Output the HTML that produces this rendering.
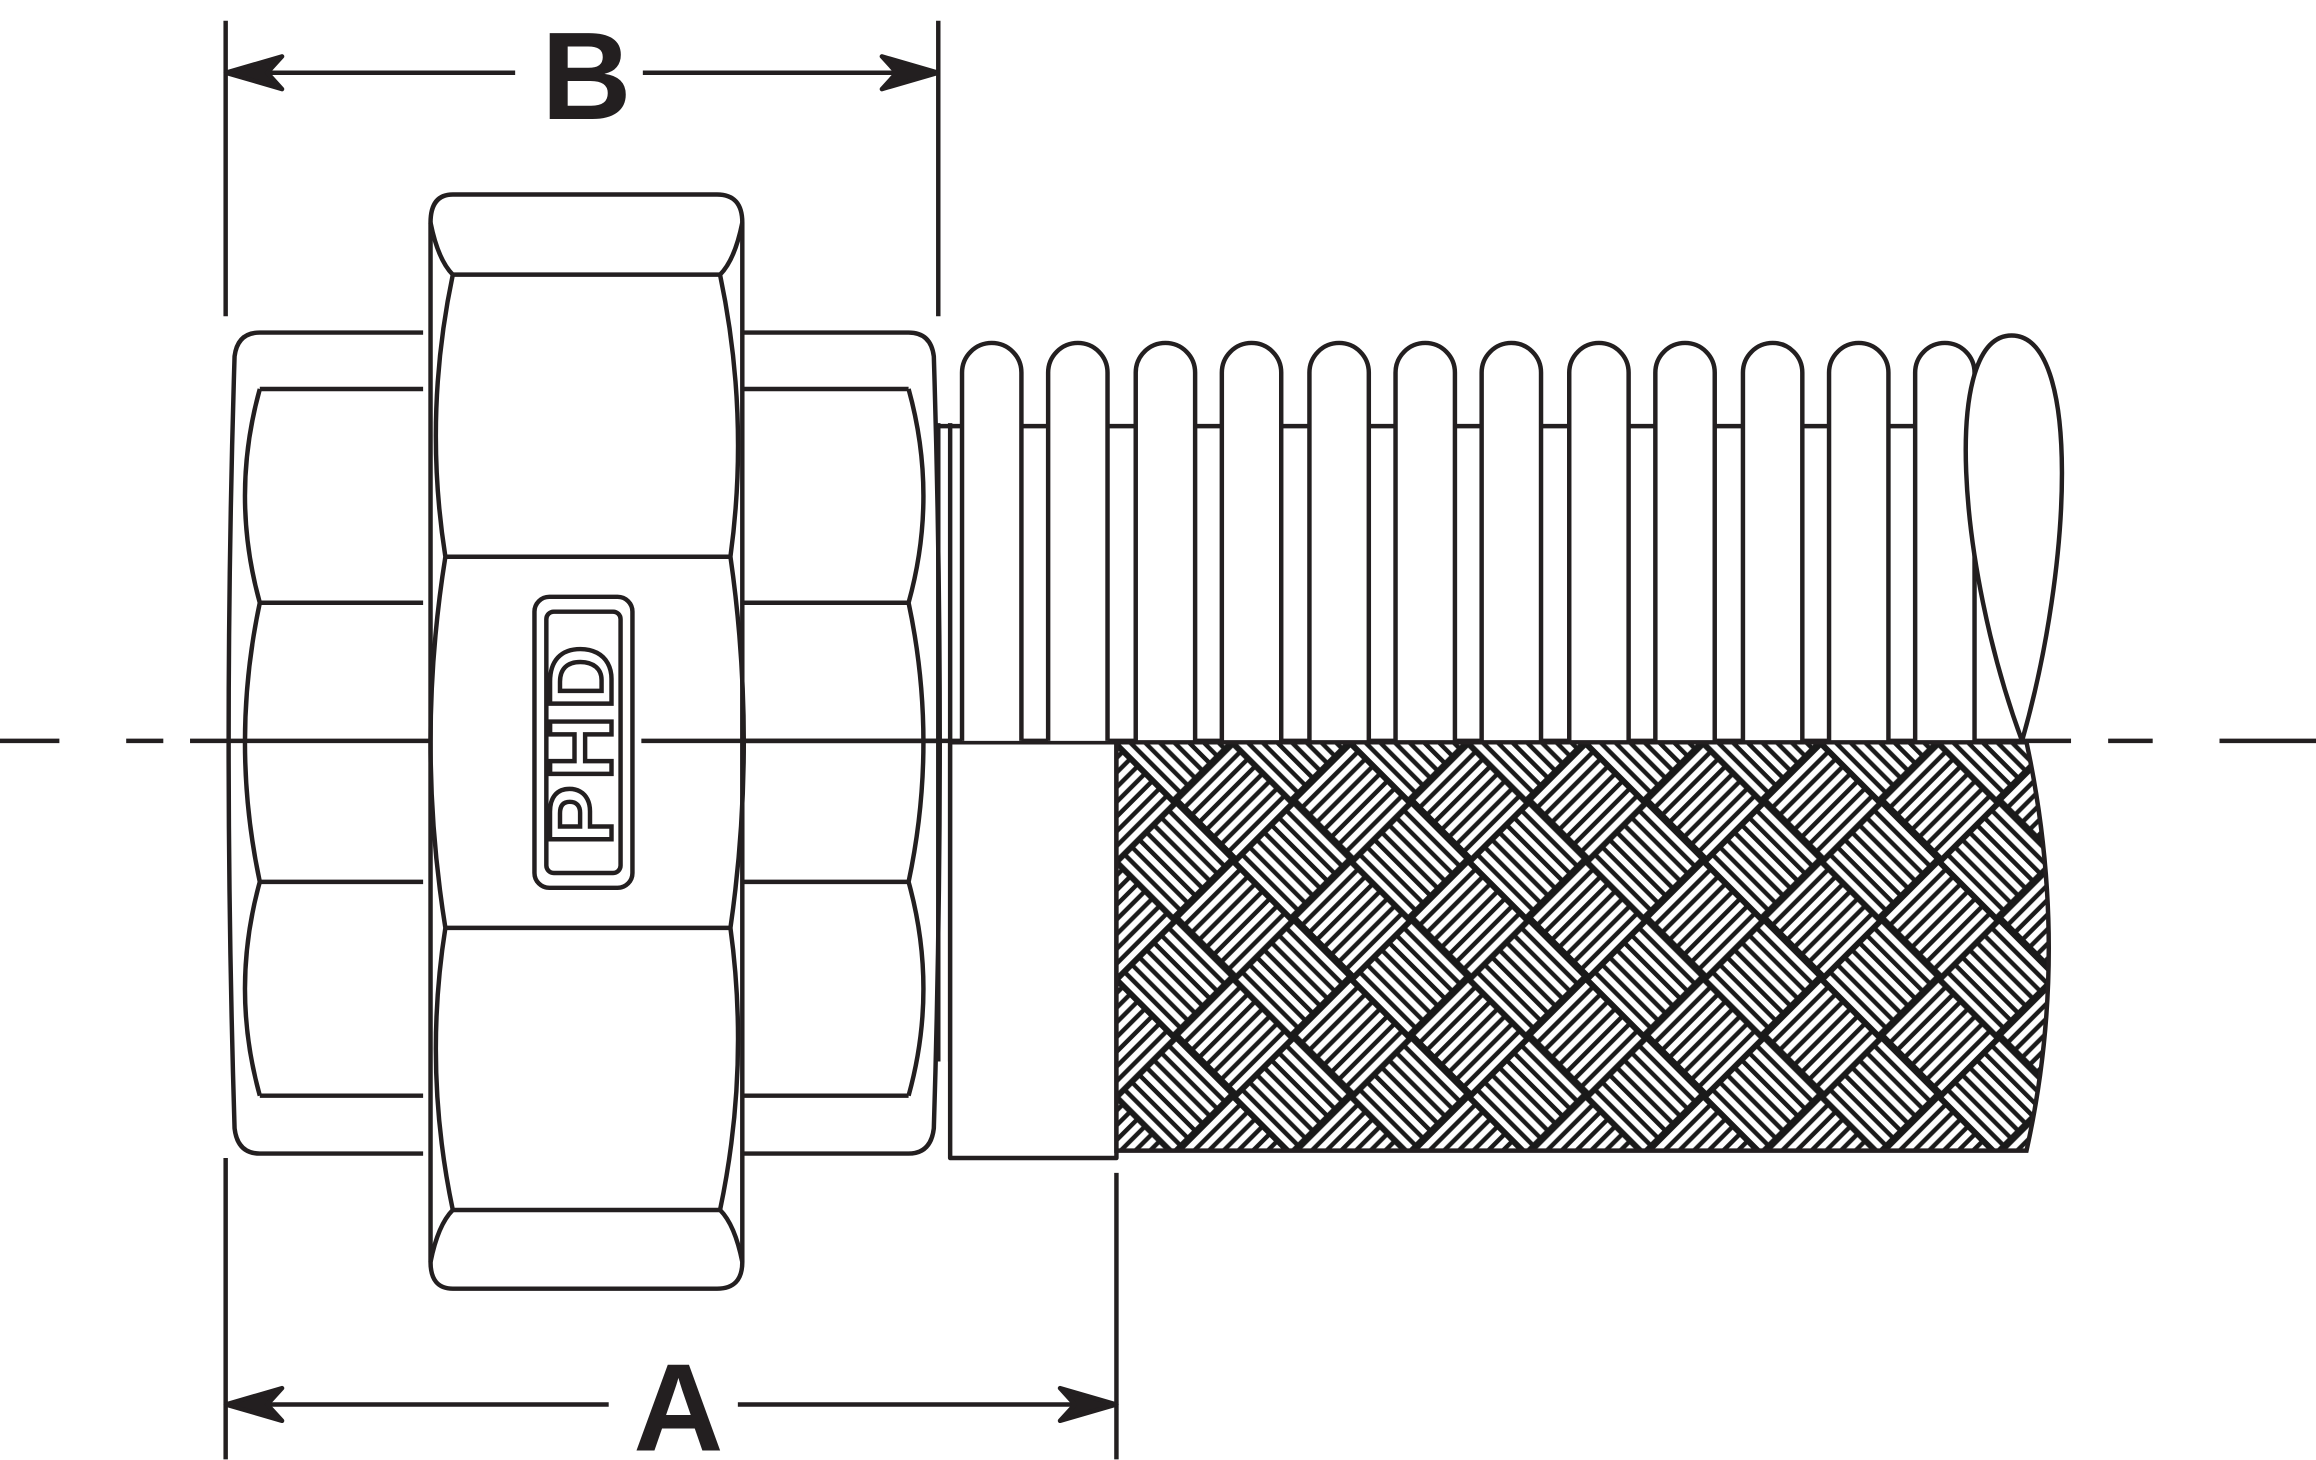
<!DOCTYPE html>
<html><head><meta charset="utf-8"><style>
html,body{margin:0;padding:0;background:#fff;}
svg{display:block;}
</style></head><body>
<svg width="2316" height="1460" viewBox="0 0 1560 983.4" preserveAspectRatio="none" xmlns="http://www.w3.org/2000/svg">
<defs>
<pattern id="weave" patternUnits="userSpaceOnUse" width="112" height="112" patternTransform="translate(752,500) rotate(45)">
<rect width="112" height="112" fill="#1a1a1a"/>
<g stroke="#fff" stroke-width="4">
<path d="M4,3V53 M11,3V53 M18,3V53 M25,3V53 M32,3V53 M39,3V53 M46,3V53 M53,3V53"/>
<path d="M60,59V109 M67,59V109 M74,59V109 M81,59V109 M88,59V109 M95,59V109 M102,59V109 M109,59V109"/>
<path d="M59,4H109 M59,11H109 M59,18H109 M59,25H109 M59,32H109 M59,39H109 M59,46H109 M59,53H109"/>
<path d="M3,60H53 M3,67H53 M3,74H53 M3,81H53 M3,88H53 M3,95H53 M3,102H53 M3,109H53"/>
</g>
</pattern>
</defs>
<g fill="none" stroke="#231f20" stroke-width="3" stroke-linejoin="round">
<path d="M152,14V213 M632,14V213 M152,49H347 M433,49H632"/>
<path d="M152,49 L190,38 L180,49 L190,60Z M632,49 L594,38 L604,49 L594,60Z" fill="#231f20"/>
<path d="M152,780V983 M752,790V983 M152,946H410 M497,946H752"/>
<path d="M152,946 L190,935 L180,946 L190,957Z M752,946 L714,935 L724,946 L714,957Z" fill="#231f20"/>
<path d="M0,499H40 M85,499H110 M128,499H352 M432,499H1395 M1420,499H1450 M1495,499H1560"/>
<path d="M285,224H175 Q160,224 158,240 Q150,500 158,760 Q160,777 175,777H285"/>
<path d="M175,262H285 M175,406H285 M175,594H285 M175,738H285"/>
<path d="M175,262 Q155,334 175,406 Q155,500 175,594 Q155,666 175,738"/>
<path d="M500,224H612 Q627,224 629,240 Q637,500 629,760 Q627,777 612,777H500"/>
<path d="M500,262H612 M500,406H612 M500,594H612 M500,738H612"/>
<path d="M612,262 Q632,334 612,406 Q632,500 612,594 Q632,666 612,738"/>
<path d="M305,131H483 Q500,131 500,150 V850 Q500,868 483,868 H305 Q290,868 290,850 V150 Q290,131 305,131Z" fill="#fff"/>
<path d="M305,185H485 M300,375H492 M300,625H492 M305,815H485"/>
<path d="M290,150 Q295,175 305,185 M500,150 Q495,175 485,185 M290,850 Q295,825 305,815 M500,850 Q495,825 485,815"/>
<path d="M305,185 Q285,280 300,375 Q280,500 300,625 Q285,720 305,815"/>
<path d="M485,185 Q505,280 492,375 Q510,500 492,625 Q505,720 485,815"/>
<rect x="360" y="402" width="66" height="196" rx="10" fill="#fff"/>
<rect x="368" y="412" width="50" height="176" rx="5"/>
<path d="M632,285V715 M640,285V715"/>
<rect x="640" y="500" width="112" height="280" fill="#fff"/>
<path d="M632,287H1330"/>
</g>
<text transform="translate(412,500) rotate(-90)" text-anchor="middle" font-family="Liberation Sans, sans-serif" font-weight="bold" font-size="60" fill="#fff" stroke="#231f20" stroke-width="3" letter-spacing="4">PHD</text>
<line x1="432" y1="499" x2="632" y2="499" stroke="#231f20" stroke-width="3"/>
<g fill="#fff" stroke="#231f20" stroke-width="3">
<path d="M648,499V251A20,20 0 0 1 688,251V499"/>
<path d="M706,499V251A20,20 0 0 1 746,251V499"/>
<path d="M765,499V251A20,20 0 0 1 805,251V499"/>
<path d="M823,499V251A20,20 0 0 1 863,251V499"/>
<path d="M882,499V251A20,20 0 0 1 922,251V499"/>
<path d="M940,499V251A20,20 0 0 1 980,251V499"/>
<path d="M998,499V251A20,20 0 0 1 1038,251V499"/>
<path d="M1057,499V251A20,20 0 0 1 1097,251V499"/>
<path d="M1115,499V251A20,20 0 0 1 1155,251V499"/>
<path d="M1174,499V251A20,20 0 0 1 1214,251V499"/>
<path d="M1232,499V251A20,20 0 0 1 1272,251V499"/>
<path d="M1290,499V251A20,20 0 0 1 1330,251V499"/>
<path d="M1362,499 C1318,380 1308,226 1355,226 C1402,226 1396,380 1362,499Z"/>
<path d="M752,500H1365 Q1395,640 1365,775 H752Z" fill="url(#weave)"/>
</g>
<text x="395" y="80" text-anchor="middle" font-family="Liberation Sans, sans-serif" font-weight="bold" font-size="84" fill="#231f20">B</text>
<text x="457" y="977" text-anchor="middle" font-family="Liberation Sans, sans-serif" font-weight="bold" font-size="84" fill="#231f20">A</text>
</svg>
</body></html>
